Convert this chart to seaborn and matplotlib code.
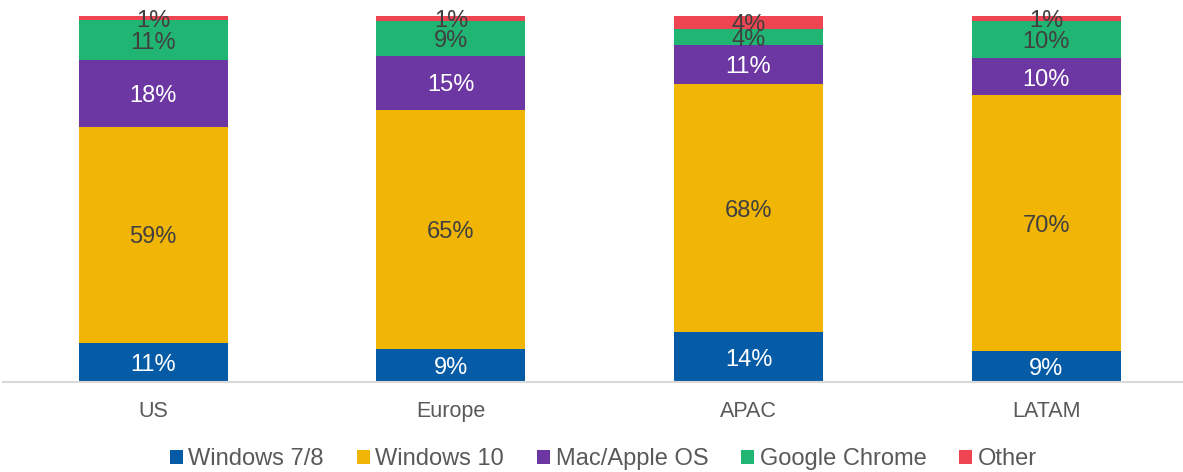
import numpy as np
import pandas as pd
import seaborn as sns
import matplotlib.pyplot as plt
from matplotlib.patches import Patch

# Dados (% por região)
regioes = ['US', 'Europe', 'APAC', 'LATAM']
series = ['Windows 7/8', 'Windows 10', 'Mac/Apple OS', 'Google Chrome', 'Other']
win78 = [10.7, 9.0, 13.6, 8.6]
win10 = [59.1, 65.4, 67.7, 69.7]
mac = [18.3, 14.8, 10.9, 10.1]
chrome = [10.8, 9.4, 4.2, 10.3]
other = [1.1, 1.4, 3.6, 1.3]

cores = ['#055BA6', '#F0B505', '#6D37A3', '#21B573', '#EF4452']
cor_texto = ['white', '#404040', 'white', '#404040', '#404040']

df = pd.DataFrame({'regiao': regioes, 'Windows 7/8': win78, 'Windows 10': win10,
                   'Mac/Apple OS': mac, 'Google Chrome': chrome, 'Other': other})

sns.set_style('white')
plt.rcParams['font.family'] = ['Liberation Sans', 'DejaVu Sans']

fig = plt.figure(figsize=(11.83, 4.72), dpi=100)
ax = fig.add_axes([3 / 1183, 90 / 472, 1180 / 1183, 366 / 472])

base = np.zeros(len(regioes))
for serie, cor, ct in zip(series, cores, cor_texto):
    vals = df[serie].values
    sns.barplot(x=df['regiao'], y=vals, bottom=base, color=cor, saturation=1,
                width=0.5, ax=ax, edgecolor='none', linewidth=0)
    # rótulos de porcentagem no meio de cada segmento
    for i, v in enumerate(vals):
        ax.annotate(f"{v:.0f}%", (i, base[i] + v / 2), xytext=(0, -2),
                    textcoords='offset points', ha='center', va='center',
                    color=ct, fontsize=17, annotation_clip=False)
    base += vals

ax.set_xlim(-0.505, 3.46)
ax.set_ylim(0, 100)
ax.set_xlabel('')
ax.set_ylabel('')
ax.set_yticks([])
for s in ['top', 'right', 'left']:
    ax.spines[s].set_visible(False)
ax.spines['bottom'].set_color('#D9D9D9')
ax.spines['bottom'].set_linewidth(1.5)
ax.tick_params(axis='x', length=0, pad=14, labelsize=15.5, labelcolor='#595959')

handles = [Patch(facecolor=c, edgecolor='none') for c in cores]
fig.legend(handles, series, loc='center', bbox_to_anchor=(0.51, 13 / 472), ncol=5,
           frameon=False, fontsize=17, handlelength=0.55, handleheight=0.55,
           handletextpad=0.25, columnspacing=1.38, labelcolor='#595959',
           borderpad=0, borderaxespad=0)

fig.savefig('out.png', dpi=100)
